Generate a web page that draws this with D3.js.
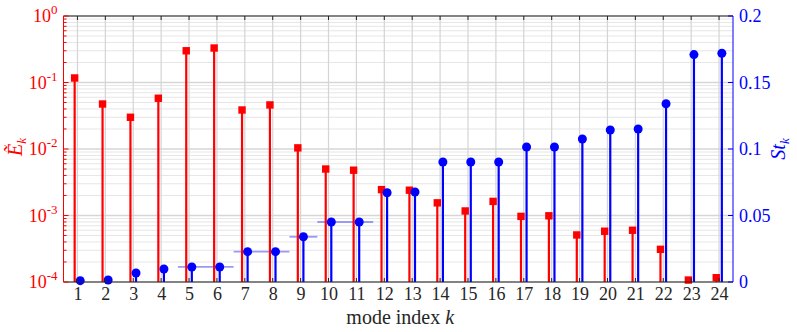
<!DOCTYPE html>
<html>
<head>
<meta charset="utf-8">
<script src="https://cdn.jsdelivr.net/npm/d3@7"></script>
<style>
  body { margin: 0; background: #fff; }
  text { font-family: "Liberation Serif", "Times New Roman", serif; }
</style>
</head>
<body>
<div class="app"></div>
<script>
// mode index k
var modes = d3.range(1, 25);
// normalised energy (left, log axis)
var energy = [0.117, 0.0475, 0.030, 0.058, 0.30, 0.33, 0.0386, 0.046, 0.0104, 0.0050,
              0.0048, 0.00245, 0.0024, 0.00155, 0.00117, 0.00163, 0.00097, 0.00099,
              0.00051, 0.00058, 0.00060, 0.00031, 0.000107, 0.000116];
// Strouhal number (right, linear axis)
var strouhal = [0.0010, 0.0015, 0.0068, 0.0098, 0.0113, 0.0113, 0.0228, 0.0228, 0.0340,
                0.0451, 0.0451, 0.0671, 0.0677, 0.0902, 0.0902, 0.0902, 0.1015, 0.1015,
                0.1075, 0.1143, 0.1150, 0.1340, 0.1710, 0.1720];
// frequency-band bars: first and last mode of each group
var bandFirst = [5, 7, 9, 10];
var bandLast = [6, 8, 9, 11];
var leftTicks = [1e-4, 1e-3, 1e-2, 1e-1, 1];
var leftExp = ["-4", "-3", "-2", "-1", "0"];
var rightTicks = [0, 0.05, 0.1, 0.15, 0.2];

var W = 797, H = 332;
var margin = {top: 16, right: 64, bottom: 50, left: 63.5},
    width = W - margin.left - margin.right,
    height = H - margin.top - margin.bottom;

var svg = d3.select(".app").append("svg")
    .attr("width", W)
    .attr("height", H)
  .append("g")
    .attr("transform", "translate(" + margin.left + "," + margin.top + ")");

var x = d3.scaleLinear().domain([0.5, 24.5]).range([0, width]);
var yL = d3.scaleLog().domain([1e-4, 1]).range([height, 0]);
var yR = d3.scaleLinear().domain([0, 0.2]).range([height, 0]);

var red = "#ff0000", blue = "#0000ff";
var dx = 0.1;

// minor log values
var minor = [];
for (var e = -4; e < 0; e++) {
  for (var m = 2; m <= 9; m++) minor.push(m * Math.pow(10, e));
}

// grid
var grid = svg.append("g");
grid.selectAll(".gminor").data(minor).enter().append("line")
    .attr("x1", 0).attr("x2", width)
    .attr("y1", function(d) { return yL(d); }).attr("y2", function(d) { return yL(d); })
    .attr("stroke", "#e6e6e6").attr("stroke-width", 1);
grid.selectAll(".gmajor").data(leftTicks).enter().append("line")
    .attr("x1", 0).attr("x2", width)
    .attr("y1", function(d) { return yL(d); }).attr("y2", function(d) { return yL(d); })
    .attr("stroke", "#d6d6d6").attr("stroke-width", 1.5);
grid.selectAll(".gx").data(modes).enter().append("line")
    .attr("x1", function(d) { return x(d); }).attr("x2", function(d) { return x(d); })
    .attr("y1", 0).attr("y2", height)
    .attr("stroke", "#d4d4d4").attr("stroke-width", 1.2);

// frequency bands
svg.selectAll(".band").data(bandFirst).enter().append("line")
    .attr("x1", function(d) { return x(d + dx - 0.5); })
    .attr("x2", function(d, i) { return x(bandLast[i] + dx + 0.5); })
    .attr("y1", function(d) { return yR(strouhal[d - 1]); })
    .attr("y2", function(d) { return yR(strouhal[d - 1]); })
    .attr("stroke", "#9a9af5").attr("stroke-width", 1.8);

// red stems
svg.selectAll(".rs").data(modes).enter().append("line")
    .attr("x1", function(d) { return x(d - dx); }).attr("x2", function(d) { return x(d - dx); })
    .attr("y1", height).attr("y2", function(d, i) { return yL(energy[i]); })
    .attr("stroke", red).attr("stroke-width", 2.2);
svg.selectAll(".rm").data(modes).enter().append("rect")
    .attr("x", function(d) { return x(d - dx) - 3.7; })
    .attr("y", function(d, i) { return yL(energy[i]) - 3.7; })
    .attr("width", 7.4).attr("height", 7.4)
    .attr("fill", red);

// blue stems
svg.selectAll(".bs").data(modes).enter().append("line")
    .attr("x1", function(d) { return x(d + dx); }).attr("x2", function(d) { return x(d + dx); })
    .attr("y1", height).attr("y2", function(d, i) { return yR(strouhal[i]); })
    .attr("stroke", blue).attr("stroke-width", 2.2);
svg.selectAll(".bm").data(modes).enter().append("circle")
    .attr("cx", function(d) { return x(d + dx); })
    .attr("cy", function(d, i) { return yR(strouhal[i]); })
    .attr("r", 4.5)
    .attr("fill", blue);

// box: top and bottom
svg.append("line").attr("x1", 0).attr("x2", width).attr("y1", 0).attr("y2", 0)
    .attr("stroke", "#262626").attr("stroke-width", 1);
svg.append("line").attr("x1", 0).attr("x2", width).attr("y1", height).attr("y2", height)
    .attr("stroke", "#262626").attr("stroke-width", 1);
// x ticks top and bottom
svg.selectAll(".xt").data(modes).enter().append("line")
    .attr("x1", function(d) { return x(d); }).attr("x2", function(d) { return x(d); })
    .attr("y1", height).attr("y2", height - 4)
    .attr("stroke", "#262626");
svg.selectAll(".xtt").data(modes).enter().append("line")
    .attr("x1", function(d) { return x(d); }).attr("x2", function(d) { return x(d); })
    .attr("y1", 0).attr("y2", 4)
    .attr("stroke", "#262626");
svg.selectAll(".xl").data(modes).enter().append("text")
    .attr("x", function(d) { return x(d) + 0.5; })
    .attr("y", height + 18)
    .attr("text-anchor", "middle")
    .attr("font-size", 18)
    .attr("fill", "#262626")
    .text(function(d) { return d; });
var xlab = svg.append("text")
    .attr("x", width / 2 + 2).attr("y", height + 42)
    .attr("text-anchor", "middle")
    .attr("font-size", 20)
    .attr("fill", "#262626");
xlab.append("tspan").text("mode index ");
xlab.append("tspan").attr("font-style", "italic").text("k");

// left axis
svg.append("line").attr("x1", 0).attr("x2", 0).attr("y1", 0).attr("y2", height)
    .attr("stroke", red).attr("stroke-width", 1);
svg.selectAll(".lmt").data(minor).enter().append("line")
    .attr("x1", 0).attr("x2", 3)
    .attr("y1", function(d) { return yL(d); }).attr("y2", function(d) { return yL(d); })
    .attr("stroke", red);
svg.selectAll(".lMt").data(leftTicks).enter().append("line")
    .attr("x1", 0).attr("x2", 5)
    .attr("y1", function(d) { return yL(d); }).attr("y2", function(d) { return yL(d); })
    .attr("stroke", red);
var ll = svg.selectAll(".ll").data(leftTicks).enter().append("text")
    .attr("x", -6)
    .attr("y", function(d) { return yL(d) + 6; })
    .attr("text-anchor", "end")
    .attr("font-size", 18)
    .attr("fill", red);
ll.append("tspan").text("10");
ll.append("tspan").attr("dy", -8).attr("font-size", 13)
    .text(function(d, i) { return leftExp[i]; });
var lLab = svg.append("text")
    .attr("transform", "translate(" + (-42) + "," + (height / 2 - 2) + ")rotate(-90)")
    .attr("text-anchor", "middle")
    .attr("font-size", 20)
    .attr("fill", red);
lLab.append("tspan").attr("font-style", "italic").text("\u1EBC");
lLab.append("tspan").attr("font-style", "italic").attr("font-size", 13).attr("dy", 4).text("k");

// right axis
svg.append("line").attr("x1", width).attr("x2", width).attr("y1", 0).attr("y2", height)
    .attr("stroke", blue).attr("stroke-width", 1);
svg.selectAll(".rt").data(rightTicks).enter().append("line")
    .attr("x1", width).attr("x2", width - 5)
    .attr("y1", function(d) { return yR(d); }).attr("y2", function(d) { return yR(d); })
    .attr("stroke", blue);
svg.selectAll(".rl").data(rightTicks).enter().append("text")
    .attr("x", width + 6)
    .attr("y", function(d) { return yR(d) + 6; })
    .attr("font-size", 18)
    .attr("fill", blue)
    .text(function(d) { return d3.format("~g")(d); });
var rLab = svg.append("text")
    .attr("transform", "translate(" + (width + 52) + "," + (height / 2) + ")rotate(-90)")
    .attr("text-anchor", "middle")
    .attr("font-size", 20)
    .attr("fill", blue)
    .attr("font-style", "italic");
rLab.append("tspan").text("St");
rLab.append("tspan").attr("font-size", 13).attr("dy", 4).text("k");
</script>
</body>
</html>
